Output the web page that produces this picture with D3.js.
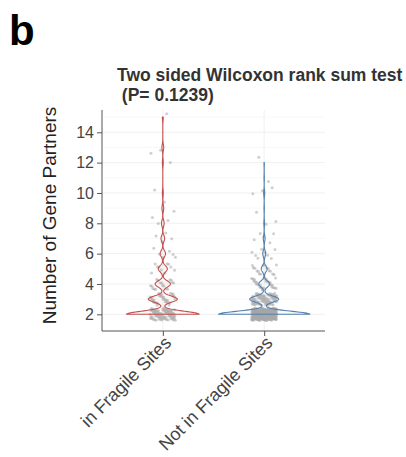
<!DOCTYPE html>
<html>
<head>
<meta charset="utf-8">
<script src="https://cdn.jsdelivr.net/npm/d3@7"></script>
<style>
  html, body { margin: 0; padding: 0; background: #fff; }
  svg { display: block; font-family: "Liberation Sans", Arial, Helvetica, sans-serif; }
</style>
</head>
<body>
<svg id="chart" width="406" height="457"></svg>
<script>
// Groups on the x axis
const categories = ["in Fragile Sites", "Not in Fragile Sites"];
// Possible numbers of gene partners (integer values)
const partnerValues = [2, 3, 4, 5, 6, 7, 8, 9, 10, 11, 12, 13, 14, 15];
// How many genes have each number of partners, per group
const fragileCounts    = [80, 32, 17, 10, 6, 4, 3, 2, 1, 0, 1, 2, 0, 1];
const nonFragileCounts = [252, 80, 30, 16, 8, 5, 2, 1, 3, 1, 1, 0, 0, 0];
// Y axis ticks
const yTicks = [2, 4, 6, 8, 10, 12, 14];
const yMinorTicks = [3, 5, 7, 9, 11, 13, 15];
const groupColors = ["#c1504f", "#5580ad"];
const titleLines = ["Two sided Wilcoxon rank sum test", " (P= 0.1239)"];

const svg = d3.select("#chart");
const panel = { left: 102, right: 325, top: 110, bottom: 331 };

const x = d3.scalePoint().domain(categories).range([panel.left, panel.right]).padding(0.6);
const y = d3.scaleLinear().domain([0.9, 15.47]).range([panel.bottom, panel.top]);

// expand counts into individual observations
function expand(counts) {
  const out = [];
  counts.forEach((c, i) => { for (let k = 0; k < c; k++) out.push(partnerValues[i]); });
  return out;
}
const groups = [expand(fragileCounts), expand(nonFragileCounts)];

// gaussian kernel density, trimmed to the data range
const bandwidth = 0.2;
function kde(v) {
  const sorted = v.slice().sort(d3.ascending);
  const lo = sorted[0], hi = sorted[sorted.length - 1];
  const grid = d3.range(0, 513).map(i => lo + (hi - lo) * i / 512);
  const n = sorted.length;
  return grid.map(t => {
    let s = 0;
    for (const d of sorted) { const u = (t - d) / bandwidth; s += Math.exp(-0.5 * u * u); }
    return [t, s / (n * bandwidth * Math.sqrt(2 * Math.PI))];
  });
}
const densities = groups.map(kde);
const maxDensity = d3.max(densities, d => d3.max(d, p => p[1]));
const halfWidth = d3.scaleLinear().domain([0, maxDensity]).range([0, x.step() * 0.45]);

// panel grid
const grid = svg.append("g");
grid.selectAll(".minor").data(yMinorTicks.filter(t => y(t) >= panel.top)).join("line")
  .attr("x1", panel.left).attr("x2", panel.right)
  .attr("y1", d => y(d)).attr("y2", d => y(d))
  .attr("stroke", "#f4f4f4").attr("stroke-width", 0.6);
grid.selectAll(".major").data(yTicks).join("line")
  .attr("x1", panel.left).attr("x2", panel.right)
  .attr("y1", d => y(d)).attr("y2", d => y(d))
  .attr("stroke", "#ececec").attr("stroke-width", 0.8);
grid.selectAll(".vmajor").data(categories).join("line")
  .attr("x1", d => x(d)).attr("x2", d => x(d))
  .attr("y1", panel.top).attr("y2", panel.bottom)
  .attr("stroke", "#ececec").attr("stroke-width", 0.8);

// jittered points (deterministic low-discrepancy jitter)
const jitterW = x.step() * 0.125, jitterH = 0.4;
const pts = svg.append("g");
groups.forEach((vals, gi) => {
  const cx = x(categories[gi]);
  pts.selectAll(null).data(vals).join("circle")
    .attr("cx", (d, i) => cx + (((i * 0.6180339887 + gi * 0.31) % 1) - 0.5) * 2 * jitterW)
    .attr("cy", (d, i) => y(d + (((i * 0.7548776662 + 0.5) % 1) - 0.5) * 2 * jitterH))
    .attr("r", 1.5)
    .attr("fill", "#a8a8a8")
    .attr("fill-opacity", 0.55);
});

// violins
const violins = svg.append("g");
densities.forEach((dens, gi) => {
  const cx = x(categories[gi]);
  const area = d3.area()
    .x0(p => cx - halfWidth(p[1]))
    .x1(p => cx + halfWidth(p[1]))
    .y(p => y(p[0]))
    .curve(d3.curveLinear);
  violins.append("path")
    .datum(dens)
    .attr("d", area)
    .attr("fill", groupColors[gi])
    .attr("fill-opacity", 0.04)
    .attr("stroke", groupColors[gi])
    .attr("stroke-width", 1.1)
    .attr("stroke-linejoin", "round");
});

// y axis
const yAxis = svg.append("g")
  .attr("transform", `translate(${panel.left},0)`)
  .call(d3.axisLeft(y).tickValues(yTicks).tickSize(5).tickSizeOuter(0).tickPadding(3));
yAxis.select(".domain").attr("d", `M0,${panel.top}V${panel.bottom}`).attr("stroke", "#555");
yAxis.selectAll(".tick line").attr("stroke", "#555");
yAxis.selectAll(".tick text").attr("font-size", 16).attr("fill", "#444")
  .attr("font-family", "Liberation Sans, Arial, sans-serif");

// x axis
const xAxis = svg.append("g")
  .attr("transform", `translate(0,${panel.bottom})`)
  .call(d3.axisBottom(x).tickSize(5).tickSizeOuter(0));
xAxis.select(".domain").attr("d", `M${panel.left},0H${panel.right}`).attr("stroke", "#555");
xAxis.selectAll(".tick line").attr("stroke", "#555");
xAxis.selectAll(".tick text")
  .attr("font-size", 18).attr("fill", "#444")
  .attr("font-family", "Liberation Sans, Arial, sans-serif")
  .attr("text-anchor", "end")
  .attr("dy", null)
  .attr("y", 0)
  .attr("transform", "translate(9,13) rotate(-45)");

// y axis title
svg.append("text")
  .attr("transform", `translate(56,${(panel.top + panel.bottom) / 2 - 5}) rotate(-90)`)
  .attr("text-anchor", "middle")
  .attr("font-size", 19)
  .attr("fill", "#222")
  .text("Number of Gene Partners");

// plot title
svg.append("g").selectAll("text").data(titleLines).join("text")
  .attr("x", 117)
  .attr("y", (d, i) => 81 + i * 20)
  .attr("font-size", 17.5)
  .attr("font-weight", "bold")
  .attr("fill", "#333")
  .attr("xml:space", "preserve")
  .style("white-space", "pre")
  .text(d => d);

// panel letter
svg.append("text")
  .attr("x", 9).attr("y", 45)
  .attr("font-size", 42).attr("font-weight", "bold")
  .attr("fill", "#000")
  .text("b");
</script>
</body>
</html>
